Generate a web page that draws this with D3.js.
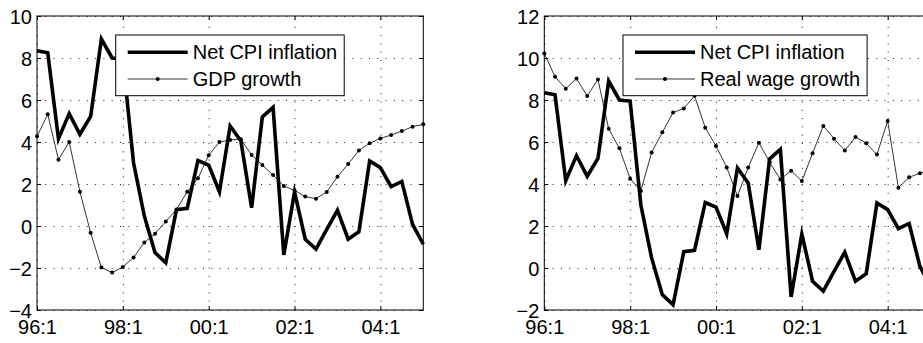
<!DOCTYPE html>
<html>
<head>
<meta charset="utf-8">
<script src="https://cdn.jsdelivr.net/npm/d3@7/dist/d3.min.js"></script>
<style>
  body { margin: 0; background: #fff; }
  svg { display: block; font-family: "Liberation Sans", Arial, Helvetica, sans-serif; }
</style>
</head>
<body>
<svg width="923" height="343"></svg>
<script>
// quarterly data, 96:1 .. 05:1
var tickQuarters = [0, 8, 16, 24, 32];
var tickLabels = ["96:1", "98:1", "00:1", "02:1", "04:1"];

var cpi = [8.35, 8.25, 4.16, 5.35, 4.37, 5.22, 8.9, 8.0, 7.95, 3.0, 0.48, -1.27, -1.75, 0.78,
           0.84, 3.12, 2.9, 1.63, 4.76, 4.05, 0.87, 5.2, 5.65, -1.38, 1.62, -0.63, -1.1, -0.16,
           0.75, -0.63, -0.27, 3.1, 2.78, 1.87, 2.12, 0.08, -0.87];
var gdp = [4.27, 5.32, 3.16, 4.0, 1.63, -0.32, -1.98, -2.22, -1.95, -1.5, -0.78, -0.37, 0.22,
           0.79, 1.63, 2.27, 3.37, 4.0, 4.1, 4.13, 3.38, 2.9, 2.43, 1.9, 1.7, 1.4, 1.3, 1.62,
           2.35, 2.95, 3.6, 3.94, 4.17, 4.33, 4.52, 4.73, 4.84];
var wage = [10.22, 9.11, 8.54, 9.02, 8.19, 8.98, 6.63, 5.7, 4.25, 3.67, 5.5, 6.46, 7.4, 7.6,
            8.2, 6.68, 5.81, 4.79, 3.43, 4.78, 5.97, 5.03, 4.22, 4.63, 4.14, 5.46, 6.76, 6.16,
            5.59, 6.24, 5.94, 5.4, 7.0, 3.82, 4.32, 4.51, 4.7];

var yTicksLeft = [-4, -2, 0, 2, 4, 6, 8, 10];
var yTicksRight = [-2, 0, 2, 4, 6, 8, 10, 12];

var svg = d3.select("svg");
var w = 386.3, h = 294;

function panel(left, yDomain, yTicks, series2, name2) {
    var g = svg.append("g").attr("transform", "translate(" + left + ",16)");
    var x = d3.scaleLinear().domain([0, 36]).range([0, w]);
    var y = d3.scaleLinear().domain(yDomain).range([h, 0]);

    // dotted grid
    var gx = g.append("g").attr("transform", "translate(0," + h + ")")
        .call(d3.axisBottom(x).tickValues(tickQuarters).tickSize(-h).tickFormat(""));
    var gy = g.append("g")
        .call(d3.axisLeft(y).tickValues(yTicks).tickSize(-w).tickFormat(""));
    [gx, gy].forEach(function (a) {
        a.select(".domain").remove();
        a.selectAll("line").attr("stroke", "#000").attr("stroke-width", 0.9)
            .attr("stroke-dasharray", "1,7.3");
    });

    var line = d3.line().x(function (d, i) { return x(i); }).y(function (d) { return y(d); });

    g.append("path").datum(series2).attr("d", line)
        .attr("fill", "none").attr("stroke", "#000").attr("stroke-width", 0.8);
    g.append("g").selectAll("circle").data(series2).enter().append("circle")
        .attr("cx", function (d, i) { return x(i); })
        .attr("cy", function (d) { return y(d); })
        .attr("r", 2).attr("fill", "#000");

    g.append("path").datum(cpi).attr("d", line)
        .attr("fill", "none").attr("stroke", "#000").attr("stroke-width", 3.6)
        .attr("stroke-linejoin", "miter").attr("stroke-miterlimit", 6);

    // legend
    var lg = g.append("g").attr("transform", "translate(78.7,19)");
    var box = lg.append("rect").attr("height", 60.7).attr("fill", "#fff")
        .attr("stroke", "#000").attr("stroke-width", 1);
    var rows = [{ label: "Net CPI inflation", thick: true }, { label: name2, thick: false }];
    var maxW = 0;
    rows.forEach(function (r, k) {
        var ry = 17.3 + k * 26.7;
        lg.append("line").attr("x1", 12).attr("x2", 72).attr("y1", ry).attr("y2", ry)
            .attr("stroke", "#000").attr("stroke-width", r.thick ? 3.6 : 0.8);
        if (!r.thick) lg.append("circle").attr("cx", 42).attr("cy", ry).attr("r", 2).attr("fill", "#000");
        var t = lg.append("text").attr("x", 77).attr("y", ry + 7).attr("font-size", "20px")
            .text(r.label);
        maxW = Math.max(maxW, t.node().getComputedTextLength());
    });
    box.attr("width", 77 + maxW + 7);

    // frame and inward ticks
    g.append("rect").attr("width", w).attr("height", h)
        .attr("fill", "none").attr("stroke", "#000").attr("stroke-width", 1);
    var tk = [
        g.append("g").attr("transform", "translate(0," + h + ")")
            .call(d3.axisBottom(x).tickValues(tickQuarters).tickSize(-4).tickFormat("")),
        g.append("g").call(d3.axisTop(x).tickValues(tickQuarters).tickSize(-4).tickFormat("")),
        g.append("g").call(d3.axisLeft(y).tickValues(yTicks).tickSize(-4).tickFormat("")),
        g.append("g").attr("transform", "translate(" + w + ",0)")
            .call(d3.axisRight(y).tickValues(yTicks).tickSize(-4).tickFormat(""))
    ];
    tk.forEach(function (a) {
        a.select(".domain").remove();
        a.selectAll("line").attr("stroke", "#000").attr("stroke-width", 1);
    });

    // tick labels
    var lx = g.append("g").attr("transform", "translate(0," + h + ")")
        .call(d3.axisBottom(x).tickValues(tickQuarters).tickSize(0).tickPadding(10)
            .tickFormat(function (d, i) { return tickLabels[i]; }));
    var ly = g.append("g")
        .call(d3.axisLeft(y).tickValues(yTicks).tickSize(0).tickPadding(5));
    [lx, ly].forEach(function (a) {
        a.select(".domain").remove();
        a.selectAll("text").attr("font-size", "20px").attr("fill", "#000")
            .attr("font-family", "Liberation Sans, Arial, Helvetica, sans-serif");
    });
    ly.selectAll("text").attr("dy", "0.36em");
}

panel(37, [-4, 10], yTicksLeft, gdp, "GDP growth");
panel(544.3, [-2, 12], yTicksRight, wage, "Real wage growth");
</script>
</body>
</html>
